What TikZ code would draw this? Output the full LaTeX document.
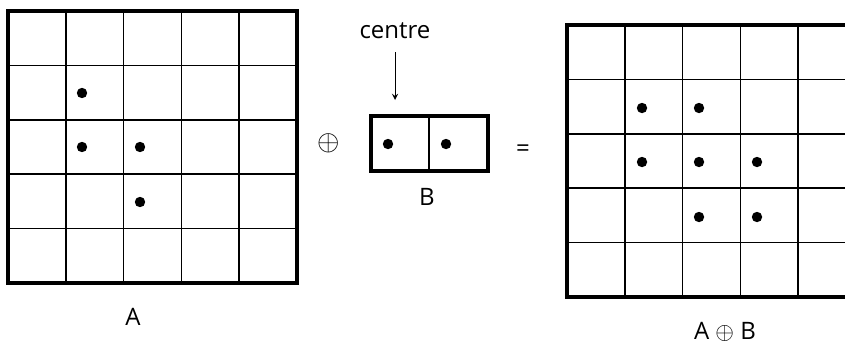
\documentclass[tikz,border=0pt]{standalone}
\usepackage{fontspec}
\setmainfont{Open Sans}

\begin{document}
\begin{tikzpicture}[x=0.5pt,y=-0.5pt,>=stealth,
  every node/.style={font=\fontsize{12}{14}\selectfont},
  cell/.style={line width=0.8pt},
  frame/.style={line width=1.6pt},
  pix/.style={fill=black}]
  \clip (0,0) rectangle (845,343);
  \fill[white] (0,0) rectangle (845,343);
  % grid A
  \foreach \i in {1,...,4} {
    \draw[cell] ({8+57.8*\i},11) -- ({8+57.8*\i},283);
    \draw[cell] (8,{11+54.4*\i}) -- (297,{11+54.4*\i});
  }
  \draw[frame] (8,11) rectangle (297,283);
  \foreach \x/\y in {82/93,82/147,140/147,140/202}
    \fill[pix] (\x,\y) circle (2.6pt);
  % structuring element B
  \draw[cell] (429,116) -- (429,171);
  \draw[frame] (371,116) rectangle (488,171);
  \foreach \x in {388,446}
    \fill[pix] (\x,144) circle (2.6pt);
  % grid A (+) B
  \foreach \i in {1,...,5} {
    \draw[cell] ({567+57.8*\i},25) -- ({567+57.8*\i},297);
  }
  \foreach \i in {1,...,4} {
    \draw[cell] (567,{25+54.4*\i}) -- (860,{25+54.4*\i});
  }
  \draw[frame] (860,25) -- (567,25) -- (567,297) -- (860,297);
  \foreach \x/\y in {642/108,699/108,642/162,699/162,757/162,699/217,757/217}
    \fill[pix] (\x,\y) circle (2.6pt);
  % labels
  \node (lblA) at (133,317) {A};
  \node[font=\fontsize{14}{16}\selectfont] (oplus) at (329,143) {$\oplus$};
  \node (eq) at (523,151) {=};
  \node (centre) at (395,31) {centre};
  \node (lblB) at (427,197) {B};
  \node (lblAB) at (725,332) {A $\oplus$ B};
  \coordinate (tip) at (395,100);
  \draw[->,shorten <=3pt] (centre) -- (tip);
\end{tikzpicture}
\end{document}
